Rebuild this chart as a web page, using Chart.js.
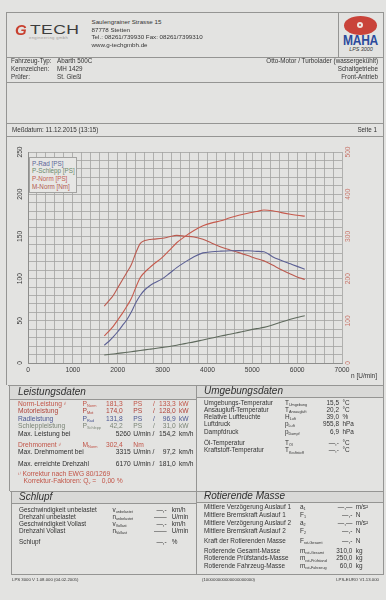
<!DOCTYPE html>
<html><head><meta charset="utf-8">
<script src="https://cdn.jsdelivr.net/npm/chart.js@4.4.0/dist/chart.umd.min.js"></script>
<style>
html,body{margin:0;padding:0;}
body{width:386px;height:600px;background:#e3e3e1;position:relative;overflow:hidden;font-family:"Liberation Sans",Arial,sans-serif;color:#343434;}
.t{position:absolute;white-space:nowrap;}
.hl{position:absolute;height:1px;background:#959593;}
.vl{position:absolute;width:1px;background:#959593;}
.band{position:absolute;background:#d9d9d7;}
.s{font-size:0.58em;position:relative;top:0.3em;}
#wrap{position:absolute;left:6px;top:137px;width:377px;height:248px;}
#legend{position:absolute;left:29px;top:157px;width:48px;height:36px;background:#e7e7e5;border:1px solid #a3a3a1;box-sizing:border-box;padding:1.6px 0 0 2px;font-size:6.3px;line-height:7.7px;white-space:nowrap;overflow:hidden;}
</style></head><body>
<div id="wrap"><canvas id="c" width="377" height="248"></canvas></div>
<div id="legend">
<div style="color:#5b6598">P-Rad [PS]</div>
<div style="color:#6c8a6a">P-Schlepp [PS]</div>
<div style="color:#c25d50">P-Norm [PS]</div>
<div style="color:#b25a4e">M-Norm [Nm]</div>
</div>
<script>
// ---- chart data ----
const rpm = [1700,1800,1900,2000,2100,2200,2300,2400,2500,2600,2700,2800,3000,3150,3315,3500,3700,3900,4100,4300,4500,4700,4900,5100,5260,5450,5650,5850,6000,6170];
const pRad = [21,25.5,31,37,44,51,60,71,80,86.5,91,94.5,100,106,113,119.5,126,130.5,131.8,132.5,133,133.2,133,132.3,131.8,126,121.5,117.5,114.5,111];
const pSchlepp = [9.5,10.1,10.7,11.4,12,12.7,13.4,14.1,14.8,15.5,16.2,16.9,18.5,19.6,21,23,25,27.3,29.6,32,34,36.3,38.6,40.7,42.2,45,48.5,51.8,54,56];
const pNorm = [32,37.5,43.5,51,58.5,67,76,89,101,107.5,112.5,117,125.5,133.5,142.5,150,157,162.5,166,168.5,172,175,177.5,179.5,181.3,180.4,178.2,176.3,175,174];
const mNorm = [135,147,160,178,196,214,232,260,283,290,292.5,293.5,295.5,299,302.4,300.5,298.5,293,284,275,268,261.5,254.5,247,242,232,221,211,204,198];
const psTicks = [0,50,100,150,200,250];
const nmTicks = [0,100,200,300,400,500];
const rpmTicks = [0,1000,2000,3000,4000,5000,6000,7000];

const FAM = '"Liberation Sans", Arial, sans-serif';
const pts = arr => rpm.map((x,i)=>({x:x,y:arr[i]}));
new Chart(document.getElementById('c'), {
  type:'line',
  data:{datasets:[
    {label:'P-Rad [PS]', data:pts(pRad), borderColor:'#5c6094', yAxisID:'yP'},
    {label:'P-Schlepp [PS]', data:pts(pSchlepp), borderColor:'#5f6a5d', yAxisID:'yP'},
    {label:'P-Norm [PS]', data:pts(pNorm), borderColor:'#c65a4d', yAxisID:'yP'},
    {label:'M-Norm [Nm]', data:pts(mNorm), borderColor:'#bb5a4f', yAxisID:'yM'}
  ]},
  options:{
    responsive:false, animation:false, devicePixelRatio:1,
    layout:{padding:{top:15,left:0,right:0,bottom:0}},
    elements:{point:{radius:0}, line:{borderWidth:1.1, cubicInterpolationMode:'monotone'}},
    plugins:{legend:{display:false}, tooltip:{enabled:false}},
    scales:{
      x:{type:'linear', min:0, max:7000,
        ticks:{stepSize:200, autoSkip:false, maxRotation:0, minRotation:0, padding:3, color:'#3a3a3a', font:{size:6.7, family:FAM},
          callback:v=> rpmTicks.includes(v) ? String(v) : ''},
        grid:{color:'#a3a3a1', lineWidth:0.8, drawTicks:false},
        border:{color:'#8e8e8c', width:1},
        afterFit(s){s.height=22;}},
      yP:{position:'left', min:0, max:250,
        ticks:{stepSize:10, autoSkip:false, minRotation:90, maxRotation:90, crossAlign:'center', padding:2.4, color:'#3a3a3a', font:{size:6.7, family:FAM},
          callback:v=> psTicks.includes(v) ? String(v) : ''},
        grid:{color:'#a3a3a1', lineWidth:0.8, drawTicks:false},
        border:{color:'#8e8e8c', width:1},
        afterFit(s){s.width=22;}},
      yM:{position:'right', min:0, max:500,
        ticks:{stepSize:100, autoSkip:false, minRotation:90, maxRotation:90, crossAlign:'center', padding:0.4, color:'#c8766b', font:{size:6.7, family:FAM},
          callback:v=> nmTicks.includes(v) ? String(v) : ''},
        grid:{display:false, drawTicks:false},
        border:{display:false},
        afterFit(s){s.width=41;}}
    }
  }
});

// ---- page layout helpers ----
function T(x,y,html,o){
  o=o||{}; const size=o.size||6.5;
  const d=document.createElement('div'); d.className='t';
  d.style.fontSize=size+'px'; d.style.lineHeight=size+'px';
  d.style.top=(y-size*0.53)+'px';
  if(o.align==='right'){d.style.right=(386-x)+'px';}
  else if(o.align==='center'){d.style.left=x+'px';d.style.transform='translateX(-50%)';}
  else d.style.left=x+'px';
  if(o.color) d.style.color=o.color;
  if(o.italic) d.style.fontStyle='italic';
  if(o.bold) d.style.fontWeight='bold';
  if(o.css) d.style.cssText+=o.css;
  d.innerHTML=html; document.body.appendChild(d); return d;
}
function H(x,y,w){const d=document.createElement('div');d.className='hl';d.style.left=x+'px';d.style.top=y+'px';d.style.width=w+'px';document.body.appendChild(d);}
function V(x,y,h){const d=document.createElement('div');d.className='vl';d.style.left=x+'px';d.style.top=y+'px';d.style.height=h+'px';document.body.appendChild(d);}
function B(x,y,w,h){const d=document.createElement('div');d.className='band';d.style.left=x+'px';d.style.top=y+'px';d.style.width=w+'px';d.style.height=h+'px';document.body.appendChild(d);}

// bands
B(10,386,186,13); B(197,386,186,11); B(12,492,184,11); B(197,492,186,10);
// lines
H(6,12,377); H(6,57,377); H(6,82,377); H(6,123,377); H(6,136,377);
H(8,385,375); H(10,399,186); H(197,397,186); H(10,491,373); H(12,503,184); H(197,502,186); H(11,574,372);
V(6,12,373); V(9,385,106); V(11,491,84); V(383,12,563); V(338,12,45); V(196,385,189);

// header logos
T(15,30,'G',{size:15,color:'#c8402f',bold:true,italic:true});
T(30,30,'TECH',{size:13.5,color:'#3d3d3d',css:'transform:scaleX(1.3);transform-origin:left center;letter-spacing:0.3px;'});
T(29,38.5,'engineering gmbh',{size:4.2,color:'#a09a98',css:'letter-spacing:0.35px;'});
const ell=document.createElement('div');ell.style.cssText='position:absolute;left:344px;top:16px;width:33px;height:19px;border-radius:50%;background:#c9433a;';document.body.appendChild(ell);
const dot=document.createElement('div');dot.style.cssText='position:absolute;left:357px;top:22px;width:6px;height:6px;border-radius:50%;background:#f0e6e2;';document.body.appendChild(dot);
const dot2=document.createElement('div');dot2.style.cssText='position:absolute;left:359px;top:24px;width:2px;height:2px;border-radius:50%;background:#c9433a;';document.body.appendChild(dot2);
T(360.5,40,'MAHA',{size:12,color:'#2c4b9c',bold:true,align:'center',css:'transform:translateX(-50%) scaleY(1.15);letter-spacing:-0.3px;'});
T(361,49.5,'LPS 3000',{size:5.4,italic:true,align:'center',color:'#3a3a3a'});

// address
T(91.5,22.7,'Saulengrainer Strasse 15',{size:6.2});
T(91.5,30,'87778 Stetten',{size:6.2});
T(91.5,37.7,'Tel.: 08261/739930 Fax: 08261/7399310',{size:6.2});
T(91.5,45.5,'www.g-techgmbh.de',{size:6.2});

// vehicle info
T(11,61.5,'Fahrzeug-Typ:',{size:6.3}); T(57,61.5,'Abarth 500C',{size:6.3});
T(11,69.5,'Kennzeichen:',{size:6.3}); T(57,69.5,'MH 1429',{size:6.3});
T(11,77,'Prüfer:',{size:6.3}); T(57,77,'St. Gießl',{size:6.3});
T(378,61.5,'Otto-Motor / Turbolader (wassergekühlt)',{size:6.3,align:'right'});
T(378,69.5,'Schaltgetriebe',{size:6.3,align:'right'});
T(378,77,'Front-Antrieb',{size:6.3,align:'right'});
T(12,130.5,'Meßdatum: 11.12.2015 (13:15)',{size:6.3});
T(377,130.5,'Seite 1',{size:6.3,align:'right'});
T(377,376.5,'n [U/min]',{size:6.5,align:'right'});

// Leistungsdaten
T(18,392.3,'Leistungsdaten',{size:10,italic:true,color:'#303030'});
const red='#c25548', dred='#b0433a', blue='#4c5893', gray='#7b8576', blk='#2e2e2e';
const F=6.7;
const rowsP=[
 [404.3,'Norm-Leistung <span style="font-size:0.7em">¹⁾</span>','Norm','181,3','133,3',red],
 [411.8,'Motorleistung','Mot','174,0','128,0',dred],
 [419.3,'Radleistung','Rad','131,8','96,9',blue],
 [426.8,'Schleppleistung','Schlepp','42,2','31,0',gray]
];
rowsP.forEach(r=>{
  T(18,r[0],r[1],{size:F,color:r[5]});
  T(82.5,r[0],'P<span class="s">'+r[2]+'</span>',{size:F,color:r[5]});
  T(122.7,r[0],r[3],{size:F,color:r[5],align:'right'});
  T(133.3,r[0],'PS',{size:F,color:r[5]});
  T(153,r[0],'/',{size:F,color:r[5]});
  T(175.7,r[0],r[4],{size:F,color:r[5],align:'right'});
  T(179,r[0],'kW',{size:F,color:r[5]});
});
function rpmRow(y,label,n,v){
  T(18,y,label,{size:F,color:blk});
  T(130.7,y,n,{size:F,color:blk,align:'right'});
  T(133.3,y,'U/min /',{size:F,color:blk});
  T(175.7,y,v,{size:F,color:blk,align:'right'});
  T(179,y,'km/h',{size:F,color:blk});
}
rpmRow(434.3,'Max. Leistung bei','5260','154,2');
T(18,445.8,'Drehmoment <span style="font-size:0.7em">¹⁾</span>',{size:F,color:red});
T(82.5,445.8,'M<span class="s">Norm</span>',{size:F,color:red});
T(122.7,445.8,'302,4',{size:F,color:red,align:'right'});
T(133.3,445.8,'Nm',{size:F,color:red});
rpmRow(452.5,'Max. Drehmoment bei','3315','97,2');
rpmRow(464.2,'Max. erreichte Drehzahl','6170','181,0');
T(18,474.2,'<span style="font-size:0.7em">¹⁾</span> Korrektur nach EWG 80/1269',{size:F,color:red});
T(23.5,481.5,'Korrektur-Faktoren: Q<span class="s">v</span> =&nbsp;&nbsp; 0,00 %',{size:F,color:red});

// Umgebungsdaten
T(204,390.8,'Umgebungsdaten',{size:10,italic:true,color:'#303030'});
const G=6.4;
const rowsU=[
 [403.3,'Umgebungs-Temperatur','T','Umgebung','15,5','°C'],
 [410,'Ansaugluft-Temperatur','T','Ansaugluft','20,2','°C'],
 [417,'Relative Luftfeuchte','H','Luft','39,0','%'],
 [424.5,'Luftdruck','p','Luft','955,8','hPa'],
 [432,'Dampfdruck','p','Dampf','6,9','hPa'],
 [443.3,'Öl-Temperatur','T','Öl','—,-','°C'],
 [450.8,'Kraftstoff-Temperatur','T','Kraftstoff','—,-','°C']
];
rowsU.forEach(r=>{
  T(204,r[0],r[1],{size:G});
  T(285,r[0],r[2]+'<span class="s">'+r[3]+'</span>',{size:G});
  T(339,r[0],r[4],{size:G,align:'right'});
  T(342.5,r[0],r[5],{size:G});
});

// Schlupf
T(19,497.3,'Schlupf',{size:10,italic:true,color:'#303030'});
const rowsS=[
 [510,'Geschwindigkeit unbelastet','v','unbelastet','—,-','km/h'],
 [517.3,'Drehzahl unbelastet','n','unbelastet','——','U/min'],
 [524.3,'Geschwindigkeit Vollast','v','Vollast','—,-','km/h'],
 [531.7,'Drehzahl Vollast','n','Vollast','——','U/min'],
 [542.7,'Schlupf','','','—,-','%']
];
rowsS.forEach(r=>{
  T(19,r[0],r[1],{size:G});
  if(r[2]) T(112.5,r[0],r[2]+'<span class="s">'+r[3]+'</span>',{size:G});
  T(166.7,r[0],r[4],{size:G,align:'right'});
  T(171.7,r[0],r[5],{size:G});
});

// Rotierende Masse
T(204,496.5,'Rotierende Masse',{size:10,italic:true,color:'#303030'});
const rowsR=[
 [507.3,'Mittlere Verzögerung Auslauf 1','a','1','—,—','m/s²'],
 [515.3,'Mittlere Bremskraft Auslauf 1','F','1','—,-','N'],
 [523.5,'Mittlere Verzögerung Auslauf 2','a','2','—,—','m/s²'],
 [531,'Mittlere Bremskraft Auslauf 2','F','2','—,-','N'],
 [541.7,'Kraft der Rotierenden Masse','F','rot-Gesamt','—,-','N'],
 [551.7,'Rotierende Gesamt-Masse','m','rot-Gesamt','310,0','kg'],
 [558.8,'Rotierende Prüfstands-Masse','m','rot-Prüfstand','250,0','kg'],
 [566,'Rotierende Fahrzeug-Masse','m','rot-Fahrzeug','60,0','kg']
];
rowsR.forEach(r=>{
  T(204,r[0],r[1],{size:G});
  T(300,r[0],r[2]+'<span class="s">'+r[3]+'</span>',{size:G});
  T(352.3,r[0],r[4],{size:G,align:'right'});
  T(355.7,r[0],r[5],{size:G});
});

// footer
T(12,580.5,'LPS 3000 V 1.08.000 (04.02.2005)',{size:4.3});
T(202,580.5,'(100000000000000000000)',{size:4.3});
T(379,580.5,'LPS-EURO V1.13.000',{size:4.3,align:'right'});
</script>
</body></html>
